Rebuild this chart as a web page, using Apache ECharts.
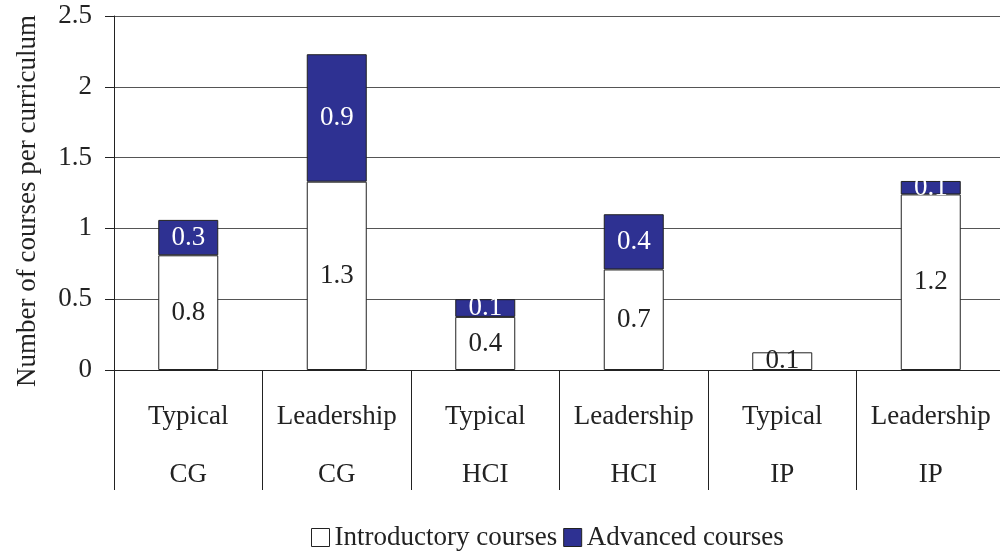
<!DOCTYPE html>
<html>
<head>
<meta charset="UTF-8">
<title>Courses per curriculum</title>
<script src="https://cdn.jsdelivr.net/npm/echarts@6/dist/echarts.min.js"></script>
<style>
    html, body { margin: 0; padding: 0; background: #fff; }
    #chart { width: 1000px; height: 558px; }
</style>
</head>
<body>
<div id="chart"></div>
<script>
    // data
    var groups = ['Typical', 'Leadership', 'Typical', 'Leadership', 'Typical', 'Leadership'];
    var areas = ['CG', 'CG', 'HCI', 'HCI', 'IP', 'IP'];
    var introCourses = [0.81, 1.33, 0.375, 0.71, 0.125, 1.24];
    var advancedCourses = [0.25, 0.9, 0.125, 0.39, null, 0.095];
    var yTicks = [0, 0.5, 1, 1.5, 2, 2.5];

    var categories = [];
    for (var i = 0; i < groups.length; i++) {
        categories.push(groups[i] + '\n' + areas[i]);
    }

    var font = 'Liberation Serif';
    var fs = 27;
    var myChart = echarts.init(document.getElementById('chart'));

    var option = {
        animation: false,
        textStyle: { fontFamily: font },
        grid: {
            left: 114,
            top: 16,
            width: 891,
            height: 354,
            outerBoundsMode: 'none'
        },
        legend: {
            top: 519,
            left: 306,
            icon: 'rect',
            itemWidth: 18,
            itemHeight: 18,
            itemGap: 6,
            textStyle: { fontFamily: font, fontSize: fs, color: '#222' },
            data: [
                { name: 'Introductory courses', itemStyle: { color: '#fff', borderColor: '#222', borderWidth: 1 } },
                { name: 'Advanced courses', itemStyle: { color: '#2E3192', borderColor: '#222', borderWidth: 1 } }
            ]
        },
        xAxis: {
            type: 'category',
            data: categories,
            axisLine: { lineStyle: { color: '#222', width: 1 } },
            axisTick: {
                show: true,
                inside: false,
                length: 120,
                interval: 0,
                lineStyle: { color: '#222', width: 1 }
            },
            axisLabel: {
                interval: 0,
                margin: 18,
                fontFamily: font,
                fontSize: fs,
                lineHeight: 58,
                color: '#222'
            }
        },
        yAxis: {
            type: 'value',
            min: yTicks[0],
            max: yTicks[yTicks.length - 1],
            interval: 0.5,
            name: 'Number of courses per curriculum',
            nameLocation: 'middle',
            nameGap: 73,
            nameTextStyle: { fontFamily: font, fontSize: fs, color: '#222', padding: [0, 16, 0, 0] },
            axisLine: { show: true, lineStyle: { color: '#222', width: 1 } },
            axisTick: { show: true, inside: false, length: 9, lineStyle: { color: '#222' } },
            axisLabel: { margin: 22, fontFamily: font, fontSize: fs, color: '#222' },
            splitLine: { show: true, lineStyle: { color: '#555', width: 1.2 } }
        },
        series: [
            {
                name: 'Introductory courses',
                type: 'bar',
                stack: 'total',
                barWidth: 60,
                data: introCourses,
                itemStyle: { color: '#fff', borderColor: '#222', borderWidth: 1 },
                label: {
                    show: true,
                    position: 'inside',
                    fontFamily: font,
                    fontSize: fs,
                    color: '#222',
                    formatter: function (p) { return p.value.toFixed(1); }
                }
            },
            {
                name: 'Advanced courses',
                type: 'bar',
                stack: 'total',
                barWidth: 60,
                data: advancedCourses,
                itemStyle: { color: '#2E3192', borderColor: '#222', borderWidth: 1 },
                label: {
                    show: true,
                    position: 'inside',
                    fontFamily: font,
                    fontSize: fs,
                    color: '#fff',
                    formatter: function (p) { return p.value == null ? '' : p.value.toFixed(1); }
                }
            }
        ]
    };

    myChart.setOption(option);
</script>
</body>
</html>
